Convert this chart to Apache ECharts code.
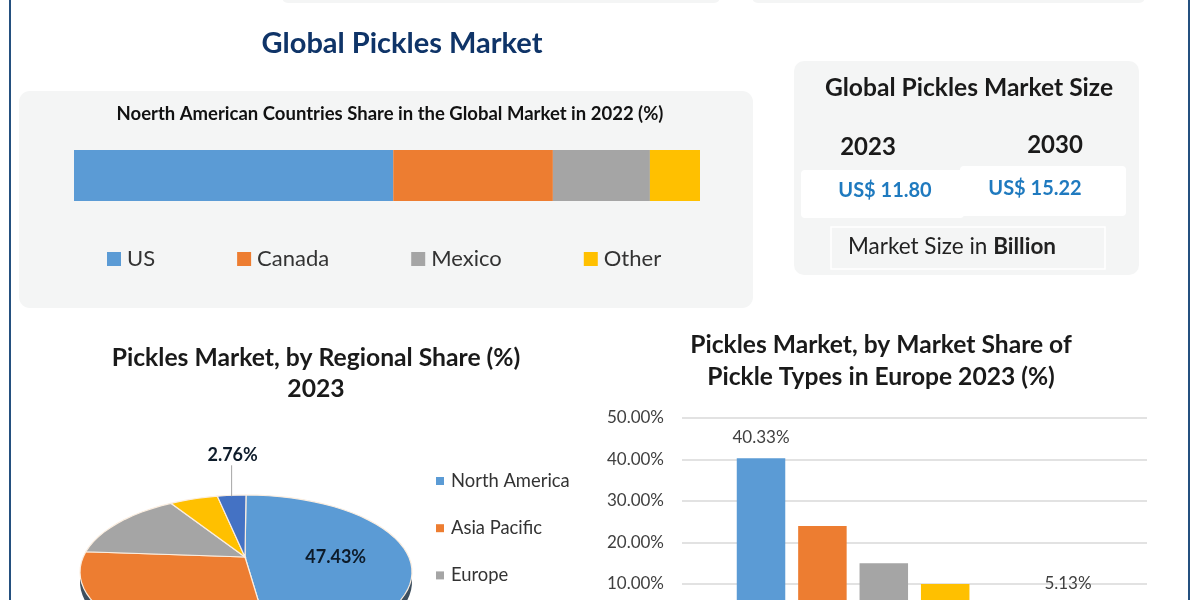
<!DOCTYPE html>
<html lang="en">
<head>
    <meta charset="UTF-8">
    <title>Global Pickles Market</title>
    <style>
        html, body { margin: 0; height: 100%; background: #fff; overflow: hidden; }
        #main { width: 1200px; height: 600px; }
    </style>
</head>
<body>
<div id="main"></div>
<script src="https://cdn.jsdelivr.net/npm/echarts@6/dist/echarts.min.js"></script>
<script>
    var FONT = 'Lato';

    // north america stacked bar
    var countryNames = ['US', 'Canada', 'Mexico', 'Other'];
    var countryValues = [51, 25.5, 15.5, 8];
    var countryColors = ['#5b9bd5', '#ed7d31', '#a5a5a5', '#ffc000'];

    // regional pie
    var regionNames = ['North America', 'Asia Pacific', 'Europe', 'Middle East and Africa', 'South America'];
    var regionValues = [47.43, 31.8, 13.3, 4.71, 2.76];
    var regionColors = ['#5b9bd5', '#ed7d31', '#a5a5a5', '#ffc000', '#4472c4'];
    var regionLabelled = [true, false, false, false, true];

    // pickle types in europe, one slot is empty in the picture
    var typeValues = [40.33, 24, 15, 10, null, 5.13];
    var typeColors = ['#5b9bd5', '#ed7d31', '#a5a5a5', '#ffc000', '#4472c4', '#70ad47'];
    var typeLabelled = [true, false, false, false, false, true];

    var sizeYears = ['2023', '2030'];
    var sizeValues = ['US$ 11.80', 'US$ 15.22'];

    // the pie is tilted, so the slices meet above the middle of the ellipse
    function slicePoints(start, end, shift) {
        var pts = [[245, 557 + shift]];
        var steps = Math.max(2, Math.ceil((end - start) * 90));
        for (var k = 0; k <= steps; k++) {
            var a = (start + (end - start) * k / steps) * 2 * Math.PI;
            pts.push([246 + 166 * Math.sin(a), 572 + shift - 77 * Math.cos(a)]);
        }
        return pts;
    }

    var pieTotal = regionValues.reduce(function (s, v) { return s + v; }, 0);

    // dark rim under the pie
    var pieDepth = {
        type: 'custom',
        name: 'depth',
        coordinateSystem: 'none',
        data: [pieTotal],
        z: 2,
        renderItem: function () {
            return {
                type: 'polygon',
                shape: { points: slicePoints(0, 1, 10) },
                style: { fill: '#3d4f5f' }
            };
        }
    };

    var pieSeries = regionNames.map(function (name, i) {
        var before = regionValues.slice(0, i).reduce(function (s, v) { return s + v; }, 0);
        return {
            type: 'custom',
            name: name,
            coordinateSystem: 'none',
            itemStyle: { color: regionColors[i] },
            data: [regionValues[i]],
            z: 3,
            renderItem: function (params, api) {
                var start = before / pieTotal;
                var end = start + api.value(0) / pieTotal;
                var mid = (start + end) * Math.PI;
                var children = [
                    {
                        type: 'polygon',
                        shape: { points: slicePoints(start, end, 0) },
                        style: { fill: regionColors[i], stroke: '#fbeee0', lineWidth: 1.2 }
                    }
                ];
                if (regionLabelled[i]) {
                    var text = api.value(0).toFixed(2) + '%';
                    var style = { text: text, font: 'bold 18px ' + FONT, fill: '#0d1b2a', align: 'center', verticalAlign: 'middle' };
                    if (api.value(0) > 10) {
                        style.x = 245 + 91 * Math.sin(mid);
                        style.y = 557;
                    } else {
                        var edgeX = 246 + 166 * Math.sin(mid);
                        var edgeY = 572 - 77 * Math.cos(mid);
                        style.x = edgeX + 1;
                        style.y = edgeY - 40;
                        children.push({
                            type: 'line',
                            shape: { x1: edgeX, y1: edgeY + 1, x2: edgeX, y2: edgeY - 30 },
                            style: { stroke: '#a6a6a6', lineWidth: 1 }
                        });
                    }
                    children.push({ type: 'text', style: style });
                }
                return { type: 'group', children: children };
            }
        };
    });

    var stackSeries = countryNames.map(function (name, i) {
        return {
            type: 'bar',
            name: name,
            stack: 'share',
            xAxisIndex: 0,
            yAxisIndex: 0,
            barWidth: '100%',
            itemStyle: { color: countryColors[i] },
            data: [countryValues[i]]
        };
    });

    var typeSeries = {
        type: 'bar',
        xAxisIndex: 1,
        yAxisIndex: 1,
        barWidth: 48.5,
        data: typeValues.map(function (v, i) {
            return {
                value: [i, v],
                itemStyle: { color: typeColors[i] },
                label: { show: typeLabelled[i] }
            };
        }),
        label: {
            position: 'top',
            distance: 12,
            color: '#404040',
            fontFamily: FONT,
            fontSize: 17,
            formatter: function (p) { return p.value[1].toFixed(2) + '%'; }
        }
    };

    function panelText(x, y, text, font, fill, align) {
        return {
            type: 'text',
            x: x, y: y,
            z: 5,
            style: { text: text, font: font, fill: fill, align: align || 'center', verticalAlign: 'middle' }
        };
    }

    var myChart = echarts.init(document.getElementById('main'), null, { renderer: 'canvas' });
    myChart.setOption({
        backgroundColor: '#ffffff',
        animation: false,
        title: [
            {
                text: 'Global Pickles Market',
                padding: 0,
                left: 402, top: 29, textAlign: 'center',
                textStyle: { fontFamily: FONT, fontSize: 29, fontWeight: 'bold', color: '#0f3468' }
            },
            {
                text: 'Noerth American Countries Share in the Global Market in 2022 (%)',
                padding: 0,
                left: 390, top: 105, textAlign: 'center',
                textStyle: { fontFamily: FONT, fontSize: 18.5, fontWeight: 'bold', color: '#111111' }
            },
            {
                text: 'Pickles Market, by Regional Share (%)\n2023',
                padding: 0,
                left: 316, top: 343, textAlign: 'center',
                textStyle: { fontFamily: FONT, fontSize: 24.7, fontWeight: 'bold', color: '#1a1a1a', lineHeight: 31 }
            },
            {
                text: 'Pickles Market, by Market Share of\nPickle Types in Europe 2023 (%)',
                padding: 0,
                left: 881, top: 329, textAlign: 'center',
                textStyle: { fontFamily: FONT, fontSize: 24.6, fontWeight: 'bold', color: '#1a1a1a', lineHeight: 32 }
            }
        ],
        legend: [
            {
                data: countryNames,
                padding: 0,
                left: 107, top: 248,
                icon: 'rect',
                itemWidth: 14, itemHeight: 14, itemGap: 82,
                textStyle: { fontFamily: FONT, fontSize: 22, color: '#333333', padding: [0, 0, 0, 1] }
            },
            {
                data: regionNames.slice(0, 3),
                orient: 'vertical',
                padding: 0,
                left: 436, top: 472,
                icon: 'rect',
                itemWidth: 8, itemHeight: 8, itemGap: 29.2,
                textStyle: { fontFamily: FONT, fontSize: 18.4, color: '#333333', padding: [0, 0, 0, 2] }
            }
        ],
        grid: [
            { left: 74, top: 150, width: 626, height: 51, outerBoundsMode: 'none' },
            { left: 682, top: 418, width: 465, height: 207.5, outerBoundsMode: 'none' }
        ],
        xAxis: [
            { type: 'value', gridIndex: 0, min: 0, max: 100, show: false },
            {
                type: 'value', gridIndex: 1, min: -1.287, max: 6.287,
                axisLabel: { show: false }, axisTick: { show: false }, axisLine: { show: false }, splitLine: { show: false }
            }
        ],
        yAxis: [
            { type: 'category', gridIndex: 0, data: ['Share'], show: false },
            {
                type: 'value', gridIndex: 1, min: 0, max: 50, interval: 10,
                axisLine: { show: false }, axisTick: { show: false },
                splitLine: { lineStyle: { color: '#d9d9d9', width: 1.5 } },
                axisLabel: {
                    fontFamily: FONT, fontSize: 17, color: '#404040', margin: 18,
                    formatter: function (v) { return v.toFixed(2) + '%'; }
                }
            }
        ],
        graphic: [
            { type: 'rect', z: -1, shape: { x: 10, y: -10, width: 1179, height: 630 }, style: { fill: '#ffffff', stroke: '#24507f', lineWidth: 2 } },
            { type: 'rect', z: 0, shape: { x: 282, y: -20, width: 438, height: 23, r: 6 }, style: { fill: '#f4f5f5' } },
            { type: 'rect', z: 0, shape: { x: 752, y: -20, width: 393, height: 23, r: 6 }, style: { fill: '#f4f5f5' } },
            { type: 'rect', z: 0, shape: { x: 19, y: 91, width: 734, height: 217, r: 11 }, style: { fill: '#f4f5f5' } },
            { type: 'rect', z: 0, shape: { x: 794, y: 61, width: 345, height: 214, r: 10 }, style: { fill: '#f4f5f5' } },
            { type: 'rect', z: 1, shape: { x: 801, y: 170, width: 163, height: 48, r: 4 }, style: { fill: '#ffffff' } },
            { type: 'rect', z: 1, shape: { x: 960, y: 166, width: 166, height: 50, r: 4 }, style: { fill: '#ffffff' } },
            { type: 'rect', z: 1, shape: { x: 831, y: 227, width: 274, height: 42 }, style: { fill: '#f4f5f5', stroke: '#ffffff', lineWidth: 1.5 } },
            panelText(969, 88, 'Global Pickles Market Size', 'bold 24.6px ' + FONT, '#1a1a1a'),
            panelText(868, 147, sizeYears[0], 'bold 24px ' + FONT, '#1a1a1a'),
            panelText(1055, 145, sizeYears[1], 'bold 24px ' + FONT, '#1a1a1a'),
            panelText(885, 191, sizeValues[0], 'bold 20px ' + FONT, '#1f7abf'),
            panelText(1035, 189, sizeValues[1], 'bold 20px ' + FONT, '#1f7abf'),
            {
                type: 'text', x: 848, y: 247, z: 5,
                style: {
                    text: '{a|Market Size in }{b|Billion}',
                    verticalAlign: 'middle',
                    rich: {
                        a: { font: '22.5px ' + FONT, fill: '#222222' },
                        b: { font: 'bold 22.5px ' + FONT, fill: '#222222' }
                    }
                }
            }
        ],
        series: stackSeries.concat([pieDepth], pieSeries, [typeSeries])
    });
</script>
</body>
</html>
